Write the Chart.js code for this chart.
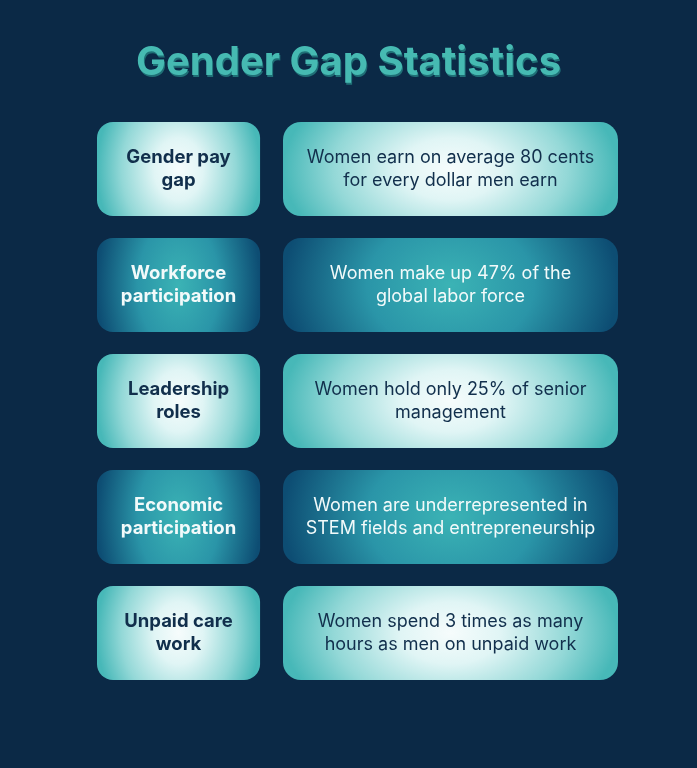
<!DOCTYPE html>
<html>
<head>
<meta charset="utf-8">
<script src="https://cdn.jsdelivr.net/npm/chart.js@4.4.0/dist/chart.umd.min.js"></script>
<style>
html, body { margin: 0; padding: 0; background: #0b2946; }
canvas { display: block; }
</style>
</head>
<body>
<canvas id="gapChart" width="697" height="768"></canvas>
<script>
const chartTitle = 'Gender Gap Statistics';
const categories = [
    ['Gender pay', 'gap'],
    ['Workforce', 'participation'],
    ['Leadership', 'roles'],
    ['Economic', 'participation'],
    ['Unpaid care', 'work']
];
const descriptions = [
    ['Women earn on average 80 cents', 'for every dollar men earn'],
    ['Women make up 47% of the', 'global labor force'],
    ['Women hold only 25% of senior', 'management'],
    ['Women are underrepresented in', 'STEM fields and entrepreneurship'],
    ['Women spend 3 times as many', 'hours as men on unpaid work']
];

// column spans on a 0-100 layout scale
const LABEL_COL = [0, 31.3];
const TEXT_COL = [35.7, 100];
const BAR_PCT = 94 / 116;

const LIGHT = { stretch: 2.2, stops: [[0, '#f6fcfc'], [0.3, '#e0f5f5'], [0.7, '#93d8d7'], [1, '#47b8b8']], text: '#112f4c' };
const DARK = { stretch: 2.8, stops: [[0, '#3bb3b5'], [0.5, '#2a95a8'], [1, '#0d4d73']], text: '#f2fafa' };

function tone(i) { return i % 2 === 0 ? LIGHT : DARK; }

function boxFill(c) {
    const chart = c.chart;
    const xs = chart.scales.x, ys = chart.scales.y;
    const t = tone(c.dataIndex);
    if (!xs || !ys || !Array.isArray(c.raw)) return t.stops[t.stops.length - 1][1];
    const x0 = xs.getPixelForValue(c.raw[0]);
    const x1 = xs.getPixelForValue(c.raw[1]);
    const cy = ys.getPixelForValue(c.dataIndex);
    const h = (ys.bottom - ys.top) / categories.length * BAR_PCT;
    const w = x1 - x0;
    if (!(w > 2) || !(h > 2)) return t.stops[t.stops.length - 1][1];
    const off = document.createElement('canvas');
    off.width = Math.ceil(w); off.height = Math.ceil(h);
    const o = off.getContext('2d');
    o.save();
    o.translate(w / 2, h / 2);
    o.scale(w / 2, h / 2 * t.stretch);
    const g = o.createRadialGradient(0, 0, 0, 0, 0, 1);
    t.stops.forEach(s => g.addColorStop(s[0], s[1]));
    o.fillStyle = g;
    o.fillRect(-2, -2, 4, 4);
    o.restore();
    const pat = chart.ctx.createPattern(off, 'no-repeat');
    pat.setTransform(new DOMMatrix([1, 0, 0, 1, x0, cy - h / 2]));
    return pat;
}

const backdrop = {
    id: 'backdrop',
    beforeDraw(chart) {
        const ctx = chart.ctx;
        ctx.save();
        ctx.fillStyle = '#0b2946';
        ctx.fillRect(0, 0, chart.width, chart.height);
        ctx.restore();
    },
    afterDraw(chart) {
        const ctx = chart.ctx;
        ctx.save();
        ctx.font = 'bold 40px Inter';
        ctx.textAlign = 'center';
        ctx.textBaseline = 'middle';
        ctx.fillStyle = '#1f6f76';
        ctx.fillText(chartTitle, chart.width / 2 + 1, 65);
        ctx.fillStyle = '#46bab2';
        ctx.fillText(chartTitle, chart.width / 2, 63);
        ctx.restore();
    }
};

const boxText = {
    id: 'boxText',
    afterDatasetsDraw(chart) {
        const ctx = chart.ctx;
        ctx.save();
        ctx.textAlign = 'center';
        ctx.textBaseline = 'middle';
        chart.data.datasets.forEach((ds, di) => {
            const meta = chart.getDatasetMeta(di);
            ctx.font = ds.textFont;
            meta.data.forEach((bar, i) => {
                const lines = ds.texts[i];
                const cx = (bar.base + bar.x) / 2;
                ctx.fillStyle = tone(i).text;
                lines.forEach((line, li) => {
                    ctx.fillText(line, cx, bar.y + (li - (lines.length - 1) / 2) * 23);
                });
            });
        });
        ctx.restore();
    }
};

new Chart(document.getElementById('gapChart'), {
    type: 'bar',
    data: {
        labels: categories.map(l => l.join(' ')),
        datasets: [{
            label: 'Topic',
            data: categories.map(() => LABEL_COL),
            texts: categories,
            textFont: 'bold 18.5px Inter',
            backgroundColor: boxFill,
            borderRadius: 16,
            borderSkipped: false,
            grouped: false,
            categoryPercentage: 1,
            barPercentage: BAR_PCT
        }, {
            label: 'Statistic',
            data: descriptions.map(() => TEXT_COL),
            texts: descriptions,
            textFont: '18px Inter',
            backgroundColor: boxFill,
            borderRadius: 18,
            borderSkipped: false,
            grouped: false,
            categoryPercentage: 1,
            barPercentage: BAR_PCT
        }]
    },
    options: {
        indexAxis: 'y',
        responsive: false,
        animation: false,
        layout: { padding: { top: 111, bottom: 77, left: 97, right: 79 } },
        scales: {
            x: { display: false, min: 0, max: 100 },
            y: { display: false }
        },
        plugins: {
            legend: { display: false },
            tooltip: { enabled: false }
        }
    },
    plugins: [backdrop, boxText]
});
</script>
</body>
</html>
